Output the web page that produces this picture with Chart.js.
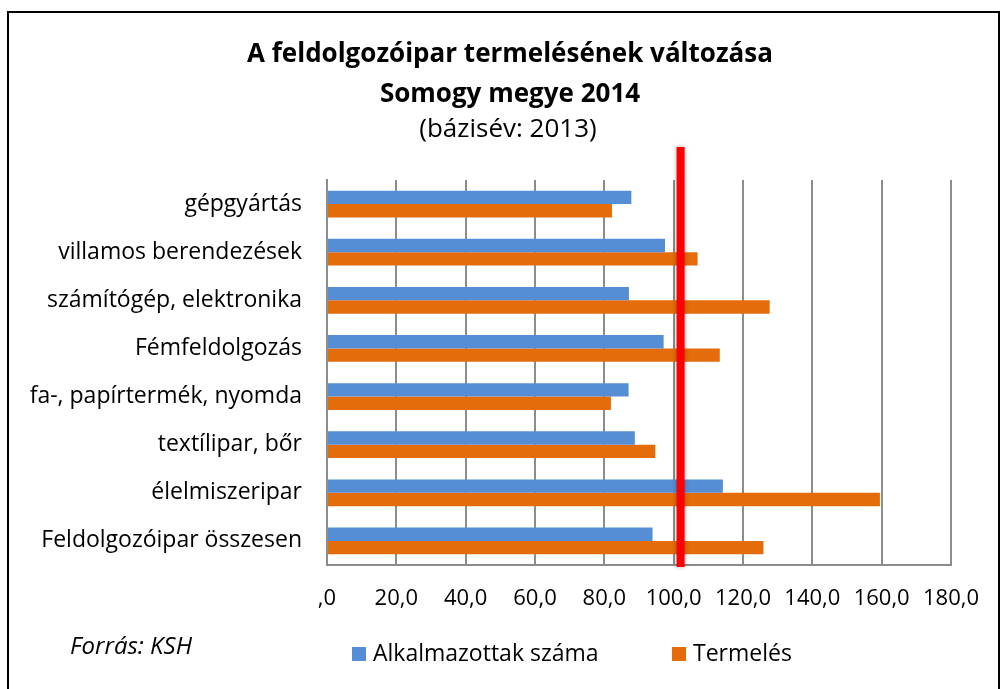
<!DOCTYPE html>
<html>
<head>
<meta charset="utf-8">
<script src="https://cdn.jsdelivr.net/npm/chart.js@4"></script>
<style>
  body { margin: 0; background: #fff; }
  #wrap { position: relative; width: 1000px; height: 689px; overflow: hidden; }
  #frame { position: absolute; left: 7px; top: 11px; width: 989px; height: 700px; border: 2px solid #000; }
  #chart { position: absolute; left: 0; top: 0; }
</style>
</head>
<body>
<div id="wrap">
  <div id="frame"></div>
  <canvas id="chart" width="1000" height="689"></canvas>
</div>
<script>
const categories = [
    'gépgyártás',
    'villamos berendezések',
    'számítógép, elektronika',
    'Fémfeldolgozás',
    'fa-, papírtermék, nyomda',
    'textílipar, bőr',
    'élelmiszeripar',
    'Feldolgozóipar összesen'
];
const employees = [87.8, 97.5, 87.1, 97.1, 87.0, 88.8, 114.2, 93.9];
const production = [82.2, 106.9, 127.7, 113.3, 81.9, 94.7, 159.5, 125.9];
const xTickLabels = [',0', '20,0', '40,0', '60,0', '80,0', '100,0', '120,0', '140,0', '160,0', '180,0'];
const titleLines = ['A feldolgozóipar termelésének változása', 'Somogy megye 2014'];
const subtitleText = '(bázisév: 2013)';
const sourceText = 'Forrás: KSH';
const baseLineValue = 102;

const FONT = '"Open Sans", "Noto Sans", sans-serif';

// title block (centered a bit right of the canvas middle, like the original)
const headerPlugin = {
    id: 'header',
    afterDraw(chart) {
        const ctx = chart.ctx;
        ctx.save();
        ctx.fillStyle = '#000';
        ctx.textAlign = 'center';
        ctx.textBaseline = 'middle';
        ctx.font = 'bold 26px ' + FONT;
        ctx.fillText(titleLines[0], 510, 55);
        ctx.fillText(titleLines[1], 510, 95);
        ctx.font = '26px ' + FONT;
        ctx.fillText(subtitleText, 508, 130);
        ctx.restore();
    }
};

// red base line, drawn over bars
const baseLinePlugin = {
    id: 'baseLine',
    afterDatasetsDraw(chart) {
        const ctx = chart.ctx;
        const x = chart.scales.x.getPixelForValue(baseLineValue);
        const area = chart.chartArea;
        ctx.save();
        ctx.shadowColor = 'rgba(0,0,0,0.35)';
        ctx.shadowBlur = 4;
        ctx.strokeStyle = '#ff0000';
        ctx.lineWidth = 8;
        ctx.beginPath();
        ctx.moveTo(x, area.top - 33);
        ctx.lineTo(x, area.bottom + 2);
        ctx.stroke();
        ctx.restore();
    }
};

// legend + source note under the axis
const footerPlugin = {
    id: 'footer',
    afterDraw(chart) {
        const ctx = chart.ctx;
        ctx.save();
        ctx.font = '23px ' + FONT;
        ctx.textBaseline = 'middle';
        let x = 352;
        const y = 654;
        chart.data.datasets.forEach((ds, i) => {
            ctx.fillStyle = ds.backgroundColor;
            ctx.fillRect(x, y - 7, 14, 14);
            ctx.fillStyle = '#000';
            ctx.fillText(ds.label, x + 21, y);
            x = 672;
        });
        ctx.font = 'italic 24px ' + FONT;
        ctx.fillText(sourceText, 70, 647);
        ctx.restore();
    }
};

new Chart(document.getElementById('chart'), {
    type: 'bar',
    data: {
        labels: categories,
        datasets: [{
            label: 'Alkalmazottak száma',
            data: employees,
            backgroundColor: '#558ed5',
            borderWidth: 0
        }, {
            label: 'Termelés',
            data: production,
            backgroundColor: '#e46c0a',
            borderWidth: 0
        }]
    },
    plugins: [headerPlugin, baseLinePlugin, footerPlugin],
    options: {
        indexAxis: 'y',
        responsive: false,
        animation: false,
        categoryPercentage: 0.555,
        barPercentage: 1,
        layout: { padding: { top: 180, left: 10, right: 47, bottom: 0 } },
        plugins: {
            legend: { display: false },
            tooltip: { enabled: false },
            title: { display: false }
        },
        scales: {
            x: {
                min: 0,
                max: 180,
                ticks: {
                    stepSize: 20,
                    color: '#000',
                    font: { family: FONT, size: 22 },
                    padding: 21,
                    maxRotation: 0,
                    callback: (v, i) => xTickLabels[i]
                },
                grid: { color: '#8c8c8c', lineWidth: 2, drawTicks: false },
                border: { color: '#8c8c8c', width: 2 },
                afterFit(scale) { scale.height = 124; }
            },
            y: {
                ticks: {
                    color: '#000',
                    font: { family: FONT, size: 23 },
                    padding: 25
                },
                grid: { display: false, drawTicks: false },
                border: { color: '#8c8c8c', width: 2 },
                afterFit(scale) { scale.width = 317; }
            }
        }
    }
});
</script>
</body>
</html>
